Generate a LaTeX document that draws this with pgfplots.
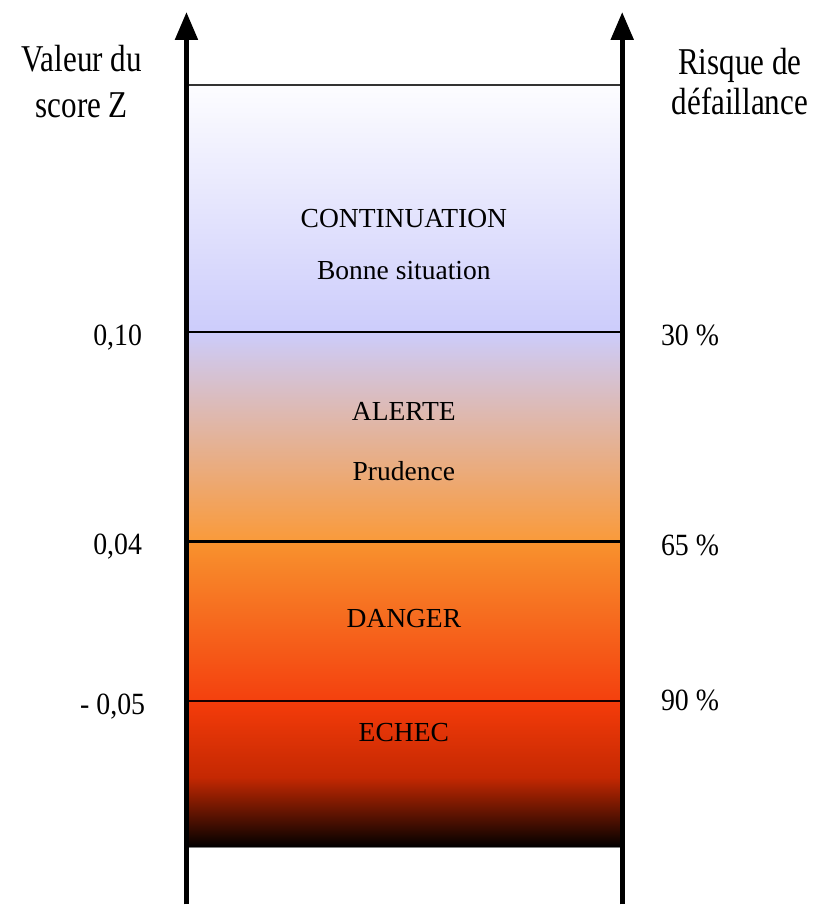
\documentclass[border=0pt]{standalone}
\usepackage{fontspec}
\setmainfont{Liberation Serif}
\usepackage{graphicx}
\usepackage{pgfplots}
\pgfplotsset{compat=1.18}
\usetikzlibrary{arrows.meta}
\definecolor{cTop}{RGB}{253,253,255}
\definecolor{cLav}{RGB}{204,204,251}
\definecolor{cOrA}{RGB}{250,154,58}
\definecolor{cOrB}{RGB}{248,146,46}
\definecolor{cRedA}{RGB}{244,64,14}
\definecolor{cRedB}{RGB}{245,60,10}
\definecolor{cDark}{RGB}{196,40,2}
\newcommand{\head}[1]{{\fontsize{19}{22}\selectfont\scalebox{0.82}[1]{#1}}}
\newcommand{\tick}[1]{{\fontsize{15.5}{18}\selectfont\scalebox{0.9}[1]{#1}}}
\newcommand{\zone}[1]{{\fontsize{13.8}{16}\selectfont #1}}
\begin{document}
\begin{tikzpicture}
\begin{axis}[
  width=407.5pt, height=453.5pt, scale only axis,
  xmin=0, xmax=815, ymin=0, ymax=907,
  hide axis, clip=false]
\path (rel axis cs:0,0) rectangle (rel axis cs:1,1);
% bands (y = 907 - pixel row)
\addplot[draw=none, top color=cTop, bottom color=cLav] coordinates {(187,822) (624,822) (624,574) (187,574)};
\addplot[draw=none, top color=cLav, bottom color=cOrA] coordinates {(187,574) (624,574) (624,364) (187,364)};
\addplot[draw=none, top color=cOrB, bottom color=cRedA] coordinates {(187,364) (624,364) (624,204) (187,204)};
\addplot[draw=none, top color=cRedB, bottom color=cDark] coordinates {(187,204) (624,204) (624,127) (187,127)};
\addplot[draw=none, top color=cDark, bottom color=black] coordinates {(187,127.5) (624,127.5) (624,57) (187,57)};
% separating lines
\addplot[black!80, line width=0.8pt] coordinates {(187,822) (624,822)};
\addplot[black, line width=1.3pt] coordinates {(187,574) (624,574)};
\addplot[black, line width=1.3pt] coordinates {(187,364) (624,364)};
\addplot[black!90!red, line width=1.3pt] coordinates {(187,204) (624,204)};
\addplot[black!50, line width=0.6pt] coordinates {(187,57) (624,57)};
% arrows
\addplot[black, line width=2.6pt, -{Triangle[length=14pt,width=11pt]}] coordinates {(187,0) (187,895)};
\addplot[black, line width=2.6pt, -{Triangle[length=14pt,width=11pt]}] coordinates {(624,0) (624,895)};
% headings
\node[anchor=base] at (axis cs:82,835) {\head{Valeur du}};
\node[anchor=base] at (axis cs:82,789) {\head{score Z}};
\node[anchor=base] at (axis cs:742,832) {\head{Risque de}};
\node[anchor=base] at (axis cs:742,792) {\head{défaillance}};
% left values
\node[anchor=base] at (axis cs:118,561) {\tick{0,10}};
\node[anchor=base] at (axis cs:118,351) {\tick{0,04}};
\node[anchor=base] at (axis cs:113,190) {\tick{- 0,05}};
% right values
\node[anchor=base] at (axis cs:692,560) {\tick{30 \%}};
\node[anchor=base] at (axis cs:692,350) {\tick{65 \%}};
\node[anchor=base] at (axis cs:692,194) {\tick{90 \%}};
% zone texts
\node[anchor=base] at (axis cs:405,679) {\zone{CONTINUATION}};
\node[anchor=base] at (axis cs:405,627) {\zone{Bonne situation}};
\node[anchor=base] at (axis cs:405,485) {\zone{ALERTE}};
\node[anchor=base] at (axis cs:405,425) {\zone{Prudence}};
\node[anchor=base] at (axis cs:405,278) {\zone{DANGER}};
\node[anchor=base] at (axis cs:405,163) {\zone{ECHEC}};
\end{axis}
\end{tikzpicture}
\end{document}
